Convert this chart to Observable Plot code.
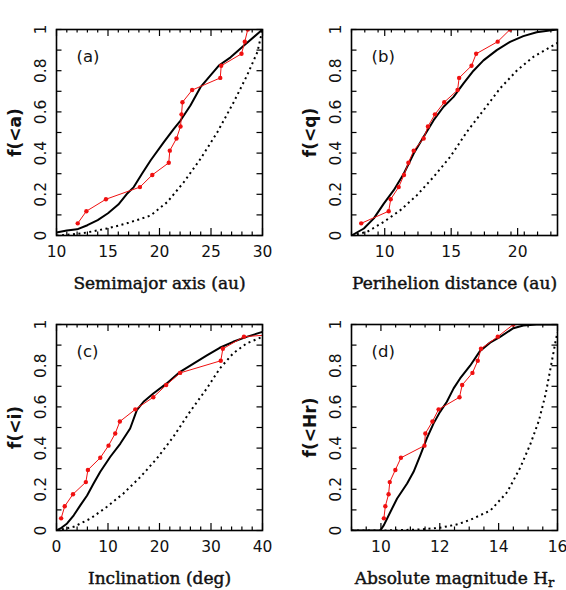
<!DOCTYPE html>
<html><head><meta charset="utf-8">
<script src="https://cdn.jsdelivr.net/npm/d3@7"></script>
<script src="https://cdn.jsdelivr.net/npm/@observablehq/plot@0.6"></script>
<style>
body{margin:0;background:#fff}
#c{position:relative;width:566px;height:590px;background:#fff}
#c svg{position:absolute;overflow:visible}
</style>
</head><body><div id="c"></div>
<script>
// empirical cumulative fraction of the 17 observed objects
const obsF = [0.059,0.118,0.176,0.235,0.294,0.353,0.412,0.471,0.529,0.588,0.647,0.706,0.765,0.824,0.882,0.941,1.0];
const yTickVals = [0,0.2,0.4,0.6,0.8,1];
const yTickText = ["0","0.2","0.4","0.6","0.8","1"];

// (a) semimajor axis
const aObsX = [12.06,12.9,14.8,18.1,19.3,20.9,21.0,21.65,22.04,22.14,22.23,23.17,25.9,25.99,27.96,28.28,28.57];
const aModelX = [10,11,12,13,14,15,16,16.8,17.5,18.3,19.13,20.42,21.39,22.04,23.0,23.98,24.95,25.76,26.9,28.2,30];
const aModelF = [0.015,0.024,0.03,0.05,0.075,0.108,0.15,0.2,0.235,0.3,0.364,0.453,0.518,0.558,0.631,0.72,0.777,0.825,0.865,0.922,1.0];
const aBiasX = [10,11,12,13,14,15,16,17,18,19.13,20.75,22.36,23.98,25.6,27.2,28.5,29.5,30];
const aBiasF = [0,0.003,0.008,0.015,0.025,0.035,0.048,0.062,0.078,0.097,0.162,0.259,0.372,0.5,0.647,0.777,0.89,1.0];

// (b) perihelion distance
const bObsX = [8.23,10.3,10.45,11.05,11.45,11.78,12.18,12.93,13.25,13.78,14.48,15.48,15.6,16.53,16.88,18.5,19.43];
const bModelX = [7.5,8.43,9.18,9.93,10.68,11.43,12.18,12.93,13.68,14.43,15.18,15.93,16.68,17.43,18.43,19.43,20.43,21.43,23];
const bModelF = [0,0.034,0.083,0.155,0.22,0.3,0.398,0.479,0.56,0.625,0.673,0.738,0.8,0.85,0.9,0.94,0.968,0.987,1.0];
const bBiasX = [7.5,8.68,9.93,11.18,12.43,13.68,14.93,16.18,17.43,18.68,19.93,21.18,23];
const bBiasF = [0,0.018,0.066,0.123,0.196,0.285,0.382,0.503,0.608,0.714,0.8,0.867,0.935];

// (c) inclination
const cObsX = [0.9,1.6,3.2,5.7,6.1,8.5,10.1,11.4,12.3,15.3,18.8,21.3,24.0,31.9,32.3,36.4,70];
const cModelX = [0,0.77,2.06,3.35,4.65,5.94,7.2,8.5,10.45,12.4,14.3,15.6,16.9,18.8,21.4,24,26.6,29.2,31.7,34.3,36.9,40];
const cModelF = [0,0.01,0.034,0.074,0.123,0.17,0.228,0.285,0.358,0.422,0.495,0.584,0.625,0.665,0.714,0.77,0.81,0.85,0.887,0.916,0.94,0.964];
const cBiasX = [0,3.35,6.6,9.8,13,16.3,19.5,22.7,25.9,29.2,31.7,34.3,36.9,40];
const cBiasF = [0,0.018,0.058,0.115,0.18,0.26,0.35,0.455,0.576,0.69,0.786,0.86,0.908,0.94];

// (d) absolute magnitude
const dObsX = [10.10,10.15,10.26,10.30,10.49,10.68,11.48,11.51,11.75,11.96,12.67,12.76,13.11,13.29,13.40,13.97,14.5];
const dModelX = [9,9.98,10.1,10.32,10.55,10.89,11.11,11.34,11.56,11.79,12.01,12.24,12.47,12.69,13.03,13.37,13.71,14.05,14.5,14.84,15.29,16];
const dModelF = [0,0,0.026,0.09,0.155,0.228,0.285,0.366,0.447,0.52,0.576,0.625,0.69,0.738,0.8,0.872,0.912,0.94,0.982,0.995,1.0,1.0];
const dBiasX = [9,10.1,11.2,12.0,12.6,13.04,13.72,14.29,14.74,15.08,15.37,15.6,15.77,15.94,16];
const dBiasF = [0,0,0.004,0.013,0.03,0.052,0.097,0.186,0.307,0.42,0.534,0.664,0.793,0.922,0.963];

const W = 283, H = 295;
const zip = (xs, ys) => xs.map((x, i) => ({x, y: ys[i]}));
const sans = "DejaVu Sans, sans-serif";
const serif = "DejaVu Serif, serif";

function panel({left, top, ml, mr, domain, major, minorStep, label, tag, xlabel, obsX, modelX, modelF, biasX, biasF}) {
  const mt = 29, mb = 60;
  const fw = W - ml - mr, fh = H - mt - mb;
  const minor = d3.range(domain[0], domain[1] + 1e-9, minorStep).filter(v => !major.some(m => Math.abs(m - v) < 1e-9));
  const yMinor = d3.range(0, 1.0001, 0.1);
  const tickStyle = {stroke: "black", strokeWidth: 1.2};
  const svg = Plot.plot({
    width: W, height: H,
    marginLeft: ml, marginRight: mr, marginTop: mt, marginBottom: mb,
    x: {domain, axis: null},
    y: {domain: [0, 1], axis: null},
    style: {fontFamily: sans, background: "transparent"},
    marks: [
      // inward ticks
      Plot.tickX(minor, {x: d => d, insetTop: fh - 3.5, ...tickStyle}),
      Plot.tickX(minor, {x: d => d, insetBottom: fh - 3.5, ...tickStyle}),
      Plot.tickX(major, {x: d => d, insetTop: fh - 7, ...tickStyle}),
      Plot.tickX(major, {x: d => d, insetBottom: fh - 7, ...tickStyle}),
      Plot.tickY(yMinor, {y: d => d, insetRight: fw - 5.5, ...tickStyle}),
      Plot.tickY(yMinor, {y: d => d, insetLeft: fw - 5.5, ...tickStyle}),
      // tick labels
      Plot.text(major, {x: d => d, frameAnchor: "bottom", lineAnchor: "top", dy: 10, text: d => String(d), fontSize: 15.5, fontFamily: sans, fill: "#111"}),
      Plot.text(yTickVals, {y: d => d, frameAnchor: "left", rotate: -90, textAnchor: "middle", lineAnchor: "bottom", dx: -11, text: (d, i) => yTickText[i], fontSize: 15.5, fontFamily: sans, fill: "#111"}),
      // axis labels
      Plot.text([xlabel], {frameAnchor: "bottom", lineAnchor: "bottom", dy: 53, text: d => d, fontSize: 17, fontFamily: serif, fill: "#111", stroke: "#111", strokeWidth: 0.45}),
      Plot.text([label], {frameAnchor: "left", rotate: -90, textAnchor: "middle", lineAnchor: "middle", dx: -40.5, text: d => d, fontSize: 17, fontWeight: "bold", fontFamily: sans, fill: "#111"}),
      Plot.text([tag], {frameAnchor: "top-left", textAnchor: "start", lineAnchor: "top", dx: 20, dy: 21, text: d => d, fontSize: 16.5, fontFamily: sans, fill: "#111"}),
      // curves
      Plot.line(zip(biasX, biasF), {x: "x", y: "y", stroke: "black", strokeWidth: 2, strokeDasharray: "2,3.5", strokeLinecap: "butt", clip: true}),
      Plot.line(zip(modelX, modelF), {x: "x", y: "y", stroke: "black", strokeWidth: 2, clip: true}),
      Plot.line(zip(obsX, obsF), {x: "x", y: "y", stroke: "#f01010", strokeWidth: 1, clip: true}),
      Plot.dot(zip(obsX, obsF), {x: "x", y: "y", r: 2.2, fill: "#f01010", clip: true}),
      Plot.frame({stroke: "black", strokeWidth: 1.6})
    ]
  });
  svg.style.left = left + "px";
  svg.style.top = top + "px";
  return svg;
}

const c = document.getElementById("c");
c.appendChild(panel({left: 0, top: 0, ml: 56, mr: 21, domain: [10, 30], major: [10,15,20,25,30], minorStep: 1,
  label: "f(<a)", tag: "(a)", xlabel: "Semimajor axis (au)", obsX: aObsX, modelX: aModelX, modelF: aModelF, biasX: aBiasX, biasF: aBiasF}));
c.appendChild(panel({left: 283, top: 0, ml: 68, mr: 9, domain: [7.5, 23], major: [10,15,20], minorStep: 1,
  label: "f(<q)", tag: "(b)", xlabel: "Perihelion distance (au)", obsX: bObsX, modelX: bModelX, modelF: bModelF, biasX: bBiasX, biasF: bBiasF}));
c.appendChild(panel({left: 0, top: 295, ml: 56, mr: 21, domain: [0, 40], major: [0,10,20,30,40], minorStep: 2,
  label: "f(<i)", tag: "(c)", xlabel: "Inclination (deg)", obsX: cObsX, modelX: cModelX, modelF: cModelF, biasX: cBiasX, biasF: cBiasF}));
const dsvg = panel({left: 283, top: 295, ml: 68, mr: 9, domain: [9, 16], major: [10,12,14,16], minorStep: 0.5,
  label: "f(<Hr)", tag: "(d)", xlabel: "Absolute magnitude H", obsX: dObsX, modelX: dModelX, modelF: dModelF, biasX: dBiasX, biasF: dBiasF});
c.appendChild(dsvg);
d3.select(dsvg).selectAll("text").filter(function() { return this.textContent === "Absolute magnitude H"; })
  .append("tspan").attr("dy", "0.3em").attr("font-size", "13px").text("r");
</script>
</body></html>
